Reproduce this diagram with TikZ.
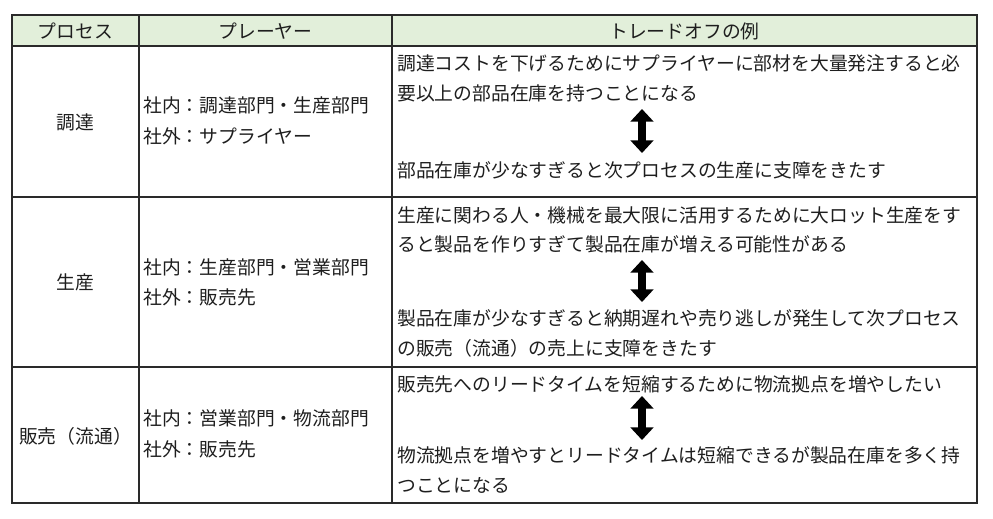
\documentclass[tikz,border=0pt]{standalone}
\usepackage{fontspec}
\setmainfont{Noto Sans CJK JP}
\usetikzlibrary{arrows.meta}
\definecolor{headfill}{HTML}{E2EFDA}
\definecolor{gridline}{HTML}{2A2A2A}
\definecolor{txt}{HTML}{1E1E1E}
\tikzset{
  cell/.style={inner sep=0pt, text=txt, font=\fontsize{14.1pt}{17pt}\selectfont},
  lefttext/.style={cell, anchor=west},
  midtext/.style={cell, anchor=center},
  grid/.style={draw=gridline, line width=1.1pt},
  tradeoff/.style={line width=6pt, {Triangle[width=17pt,length=9.5pt]}-{Triangle[width=17pt,length=9.5pt]}}
}
\begin{document}
\begin{tikzpicture}[x=0.75pt,y=-0.75pt]
\useasboundingbox (0,0) rectangle (993,518);
% header background
\fill[headfill] (12,15) rectangle (977,46);
% grid
\draw[grid] (12,15) rectangle (977,503);
\draw[grid] (12,46) -- (977,46);
\draw[grid] (12,197) -- (977,197);
\draw[grid] (12,367) -- (977,367);
\draw[grid] (139,15) -- (139,503);
\draw[grid] (392,15) -- (392,503);
% header
\node[midtext] (h1) at (75.5,31) {プロセス};
\node[midtext] (h2) at (265.5,31) {プレーヤー};
\node[midtext] (h3) at (684.5,31) {トレードオフの例};
% column 1
\node[midtext] (p1) at (75.5,122) {調達};
\node[midtext] (p2) at (75.5,282) {生産};
\node[midtext] (p3) at (75.5,436) {販売（流通）};
% column 2
\node[lefttext] (a1) at (143,105) {社内：調達部門・生産部門};
\node[lefttext] (b1) at (143,136) {社外：サプライヤー};
\node[lefttext] (a2) at (143,267) {社内：生産部門・営業部門};
\node[lefttext] (b2) at (143,297) {社外：販売先};
\node[lefttext] (a3) at (143,418) {社内：営業部門・物流部門};
\node[lefttext] (b3) at (143,449) {社外：販売先};
% column 3, row 1
\node[lefttext] (t11) at (397,63) {調達コストを下げるためにサプライヤーに部材を大量発注すると必};
\node[lefttext] (t12) at (397,93) {要以上の部品在庫を持つことになる};
\node[lefttext] (t13) at (397,170) {部品在庫が少なすぎると次プロセスの生産に支障をきたす};
\coordinate (u1) at (642,109);
\coordinate (d1) at (642,153);
\draw[tradeoff] (u1) -- (d1);
% column 3, row 2
\node[lefttext] (t21) at (397,215) {生産に関わる人・機械を最大限に活用するために大ロット生産をす};
\node[lefttext] (t22) at (397,244) {ると製品を作りすぎて製品在庫が増える可能性がある};
\node[lefttext] (t23) at (397,318) {製品在庫が少なすぎると納期遅れや売り逃しが発生して次プロセス};
\node[lefttext] (t24) at (397,348) {の販売（流通）の売上に支障をきたす};
\coordinate (u2) at (642,260);
\coordinate (d2) at (642,302);
\draw[tradeoff] (u2) -- (d2);
% column 3, row 3
\node[lefttext] (t31) at (397,384) {販売先へのリードタイムを短縮するために物流拠点を増やしたい};
\node[lefttext] (t32) at (397,455) {物流拠点を増やすとリードタイムは短縮できるが製品在庫を多く持};
\node[lefttext] (t33) at (397,485) {つことになる};
\coordinate (u3) at (642,396);
\coordinate (d3) at (642,440);
\draw[tradeoff] (u3) -- (d3);
\end{tikzpicture}
\end{document}
